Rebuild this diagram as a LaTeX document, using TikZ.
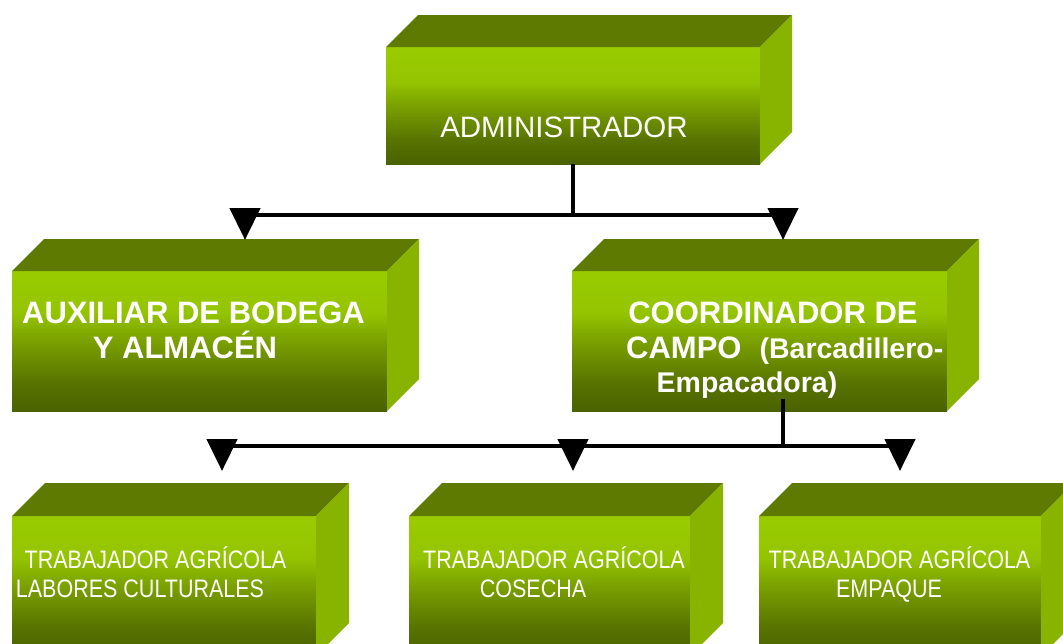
\documentclass[tikz,border=0pt]{standalone}
\usepackage{fontspec}
\setmainfont{Liberation Sans}
\newfontfamily\narrowfont[FakeStretch=0.85]{Liberation Sans}
\usetikzlibrary{arrows.meta}
\definecolor{glight}{HTML}{99CC00}
\definecolor{gbright}{HTML}{94C400}
\definecolor{gmid}{HTML}{7AA000}
\definecolor{gdk}{HTML}{577300}
\definecolor{gdark}{HTML}{4A6200}
\definecolor{gtop}{HTML}{5E7A00}
\definecolor{gside}{HTML}{88B400}
\pgfdeclareverticalshading{frontgrad}{100bp}{color(0bp)=(gdark); color(25bp)=(gdark); color(35bp)=(gdk); color(50bp)=(gmid); color(60bp)=(gbright); color(75bp)=(glight); color(100bp)=(glight)}
\newcommand\cubefaces[2]{%
  \fill[topface] (#1.north west) -- ++(#2,#2) -- ([shift={(#2,#2)}]#1.north east) -- (#1.north east) -- cycle;
  \fill[sideface] (#1.north east) -- ([shift={(#2,#2)}]#1.north east) -- ([shift={(#2,#2)}]#1.south east) -- (#1.south east) -- cycle;}
\tikzset{
  front/.style={shade, shading=frontgrad, draw=none, inner sep=0pt, outer sep=0pt, anchor=north west},
  topface/.style={fill=gtop},
  sideface/.style={fill=gside},
  conn/.style={line width=4.5pt, draw=black},
  arr/.style={conn, -{Triangle[width=30pt,length=32pt]}},
  admintxt/.style={text=white, anchor=base, inner sep=0pt, font=\fontsize{29.5}{30}\selectfont},
  boldtxt/.style={text=white, anchor=base, inner sep=0pt, font=\fontsize{31}{31}\selectfont\bfseries},
  smallbold/.style={text=white, anchor=base, inner sep=0pt, font=\fontsize{28.5}{28.5}\selectfont\bfseries},
  narrowtxt/.style={text=white, anchor=base, inner sep=0pt, font=\narrowfont\fontsize{25.3}{25}\selectfont}
}
\begin{document}
\begin{tikzpicture}[x=1pt,y=1pt]
\clip (0,0) rectangle (1063,-643);
\fill[white] (0,0) rectangle (1063,-643);
% boxes
\node[front, minimum width=374pt, minimum height=117pt] (admin) at (386,-47) {};
\cubefaces{admin}{32}
\node[front, minimum width=375pt, minimum height=140pt] (aux) at (12,-271) {};
\cubefaces{aux}{32}
\node[front, minimum width=375pt, minimum height=140pt] (coord) at (572,-271) {};
\cubefaces{coord}{32}
\node[front, minimum width=304pt, minimum height=140pt] (w1) at (12,-516) {};
\cubefaces{w1}{33}
\node[front, minimum width=281pt, minimum height=140pt] (w2) at (409,-516) {};
\cubefaces{w2}{33}
\node[front, minimum width=282pt, minimum height=140pt] (w3) at (759,-516) {};
\cubefaces{w3}{33}
% texts
\node[admintxt] (tadmin) at (564,-137) {ADMINISTRADOR};
\node[boldtxt] (taux1) at (193.5,-323) {AUXILIAR DE BODEGA};
\node[boldtxt] (taux2) at (185,-358) {Y ALMACÉN};
\node[boldtxt] (tco1) at (773,-323) {COORDINADOR DE};
\node[boldtxt, anchor=base west] (tco2) at (626,-358) {CAMPO\hspace{18pt}{\fontsize{28.5}{28.5}\selectfont(Barcadillero-}};
\node[smallbold] (tco3) at (747,-392) {Empacadora)};
\node[narrowtxt] (tw1a) at (155.5,-568) {TRABAJADOR AGRÍCOLA};
\node[narrowtxt] (tw1b) at (140,-597) {LABORES CULTURALES};
\node[narrowtxt] (tw2a) at (554,-568) {TRABAJADOR AGRÍCOLA};
\node[narrowtxt] (tw2b) at (533,-597) {COSECHA};
\node[narrowtxt] (tw3a) at (899.5,-568) {TRABAJADOR AGRÍCOLA};
\node[narrowtxt] (tw3b) at (889,-597) {EMPAQUE};
% connectors
\coordinate (j1) at (573,-215);
\coordinate (ta) at (245,-240);
\coordinate (tc) at (783,-240);
\draw[conn] (admin.south) -- (j1);
\draw[arr] (j1) -| (ta);
\draw[arr] (j1) -| (tc);
\coordinate (c2) at (783,-399);
\coordinate (j2) at (783,-446);
\coordinate (t1) at (222,-471);
\coordinate (t2) at (573,-471);
\coordinate (t3) at (900,-471);
\draw[conn] (c2) -- (j2);
\draw[arr] (j2) -| (t1);
\draw[arr] (j2) -| (t2);
\draw[arr] (j2) -| (t3);
\end{tikzpicture}
\end{document}
